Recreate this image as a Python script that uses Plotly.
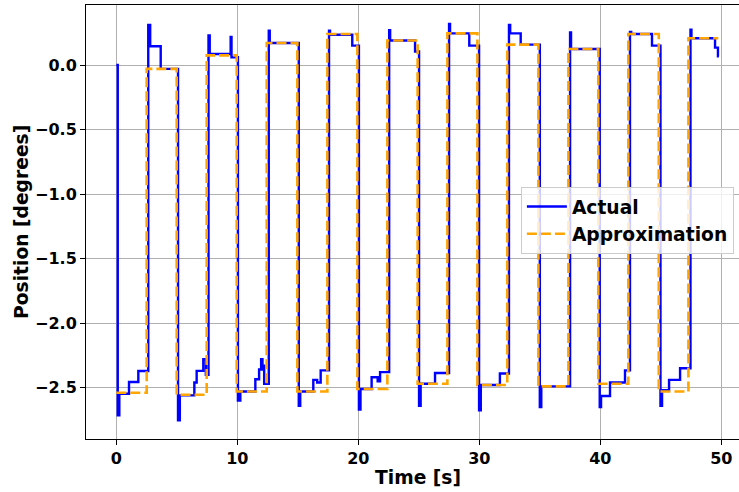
import plotly.graph_objects as go

# Measured position (step-wise samples: each value holds until the next time stamp)
actual_t = [0.00, 0.12, 0.25, 1.05, 1.82,
            2.64, 2.80, 3.67,
            5.10, 5.25, 6.45, 6.64, 7.19, 7.40,
            7.62, 7.72, 9.45, 9.52,
            10.05, 10.25, 11.49, 11.80, 11.97, 12.08, 12.15, 12.22,
            12.60, 12.68,
            15.08, 15.20, 16.28, 16.60, 16.89,
            17.58, 17.66, 19.50,
            20.05, 20.18, 21.10, 21.60, 21.80,
            22.55, 22.63, 24.69,
            25.02, 25.15, 26.34,
            27.50, 27.58, 29.17,
            29.98, 30.12, 31.70,
            32.45, 32.55, 33.42,
            35.00, 35.12,
            37.50, 37.58,
            39.95, 40.06, 40.80, 42.04,
            42.45, 42.55, 44.27,
            44.97, 45.10, 45.68, 46.59,
            47.45, 47.53, 49.48, 49.72, 49.80]
actual_y = [0.000, -2.715, -2.547, -2.456, -2.371,
            0.310, 0.145, -0.030,
            -2.754, -2.560, -2.460, -2.370, -2.280, -2.400,
            0.230, 0.085, 0.217, 0.060,
            -2.600, -2.530, -2.435, -2.360, -2.280, -2.360, -2.330, -2.470,
            0.266, 0.170,
            -2.640, -2.530, -2.440, -2.460, -2.366,
            0.266, 0.235, 0.150,
            -2.670, -2.510, -2.420, -2.450, -2.380,
            0.270, 0.190, 0.105,
            -2.640, -2.470, -2.386,
            0.318, 0.245, 0.150,
            -2.676, -2.480, -2.390,
            0.310, 0.245, 0.158,
            -2.650, -2.490,
            0.253, 0.124,
            -2.650, -2.565, -2.460, -2.366,
            0.256, 0.240, 0.150,
            -2.640, -2.520, -2.440, -2.350,
            0.274, 0.207, 0.135, 0.067, 0.067]

# Piecewise-constant approximation
approx_t = [0.00, 2.51, 4.99, 7.47, 9.95, 12.43, 14.96, 17.44, 19.92, 22.40,
            24.90, 27.36, 29.84, 32.31, 34.88, 37.36, 39.83, 42.31, 44.83,
            47.28, 49.75]
approx_y = [-2.540, -0.030, -2.555, 0.075, -2.530, 0.170, -2.530, 0.240, -2.510,
            0.190, -2.470, 0.245, -2.480, 0.158, -2.490, 0.124, -2.470, 0.240,
            -2.530, 0.207, 0.207]

x_ticks = [0, 10, 20, 30, 40, 50]
y_ticks = [0.0, -0.5, -1.0, -1.5, -2.0, -2.5]

FONT = "DejaVu Sans"
fig = go.Figure()
fig.add_trace(go.Scatter(x=actual_t, y=actual_y, mode="lines", name="Actual",
                         line=dict(color="#0000ff", width=2.4, shape="hv")))
fig.add_trace(go.Scatter(x=approx_t, y=approx_y, mode="lines", name="Approximation",
                         line=dict(color="#ffa500", width=2.6, shape="hv",
                                   dash="10px,4px")))

axis_common = dict(showgrid=True, gridcolor="#b0b0b0", gridwidth=1,
                   zeroline=False, showline=True, linecolor="black", linewidth=1,
                   ticks="outside", ticklen=5, tickwidth=1, tickcolor="black",
                   tickfont=dict(family=FONT, size=16, color="black", weight="bold"))

fig.update_xaxes(range=[-2.504, 51.46], tickvals=x_ticks, mirror=True, **axis_common)
fig.update_yaxes(range=[-2.898, 0.465], tickvals=y_ticks, tickformat=".1f", **axis_common)

fig.add_annotation(text="Time [s]", x=24.9, xref="x", y=-0.0876, yref="paper",
                   xanchor="center", yanchor="middle", showarrow=False,
                   font=dict(family=FONT, size=18.7, color="black", weight="bold"))
fig.add_annotation(text="Position [degrees]", x=-0.0995, xref="paper", y=0.5,
                   yref="paper", textangle=-90, xanchor="center", yanchor="middle",
                   showarrow=False,
                   font=dict(family=FONT, size=18.7, color="black", weight="bold"))

fig.update_layout(
    width=739, height=492,
    margin=dict(l=86, r=0, t=5, b=53),
    paper_bgcolor="white", plot_bgcolor="white",
    legend=dict(x=0.666, y=0.581, xanchor="left", yanchor="top", itemwidth=40,
                bgcolor="rgba(255,255,255,0.8)", bordercolor="#cccccc", borderwidth=1,
                font=dict(family=FONT, size=18.7, color="black", weight="bold")),
)

fig.write_html("out.html")
